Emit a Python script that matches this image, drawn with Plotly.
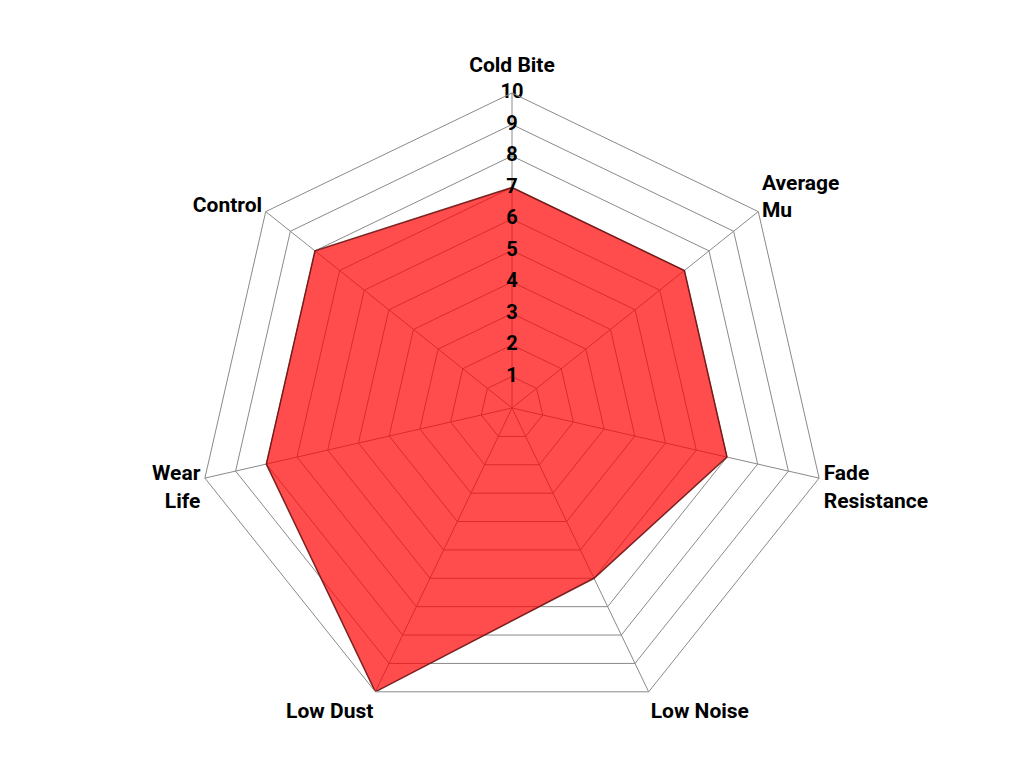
import plotly.graph_objects as go

categories = ["<span style='font-size:30px'><sup>Cold Bite</sup></span>", "Average<br>Mu", "Fade<br>Resistance",
              "Low Noise", "Low Dust", "Wear<br>Life", "Control"]
values = [7, 7, 7, 6, 10, 8, 8]
radial_ticks = [1, 2, 3, 4, 5, 6, 7, 8, 9, 10]

FONT = "Roboto, Liberation Sans Narrow, sans-serif"

fig = go.Figure()
fig.add_trace(go.Scatterpolar(
    r=values + [values[0]],
    theta=categories + [categories[0]],
    mode="lines",
    fill="toself",
    fillcolor="rgba(255,0,0,0.7)",
    line=dict(color="rgba(110,20,20,0.9)", width=1.5),
    hoverinfo="skip",
    showlegend=False,
))
fig.add_trace(go.Scatterpolar(
    r=radial_ticks,
    theta=[categories[0]] * len(radial_ticks),
    mode="text",
    text=[str(t) for t in radial_ticks],
    textposition="middle center",
    textfont=dict(family=FONT, size=20, color="black", weight="bold"),
    hoverinfo="skip",
    showlegend=False,
))

fig.update_layout(
    width=1024, height=780,
    paper_bgcolor="white",
    margin=dict(l=189, r=205, t=85, b=65),
    font=dict(family=FONT, size=20, color="black", weight="bold"),
    polar=dict(
        bgcolor="white",
        gridshape="linear",
        domain=dict(x=[0, 1], y=[0, 1]),
        radialaxis=dict(
            range=[0, 10], tickvals=radial_ticks, showticklabels=False,
            showline=False, ticks="", gridcolor="#8a8a8a", gridwidth=1,
        ),
        angularaxis=dict(
            direction="clockwise", rotation=90,
            categoryorder="array", categoryarray=categories,
            showline=True, linecolor="#8a8a8a", linewidth=1,
            gridcolor="#8a8a8a", gridwidth=1, ticks="",
            tickfont=dict(family=FONT, size=21, color="black", weight="bold"),
        ),
    ),
)

fig.write_html("out.html")
